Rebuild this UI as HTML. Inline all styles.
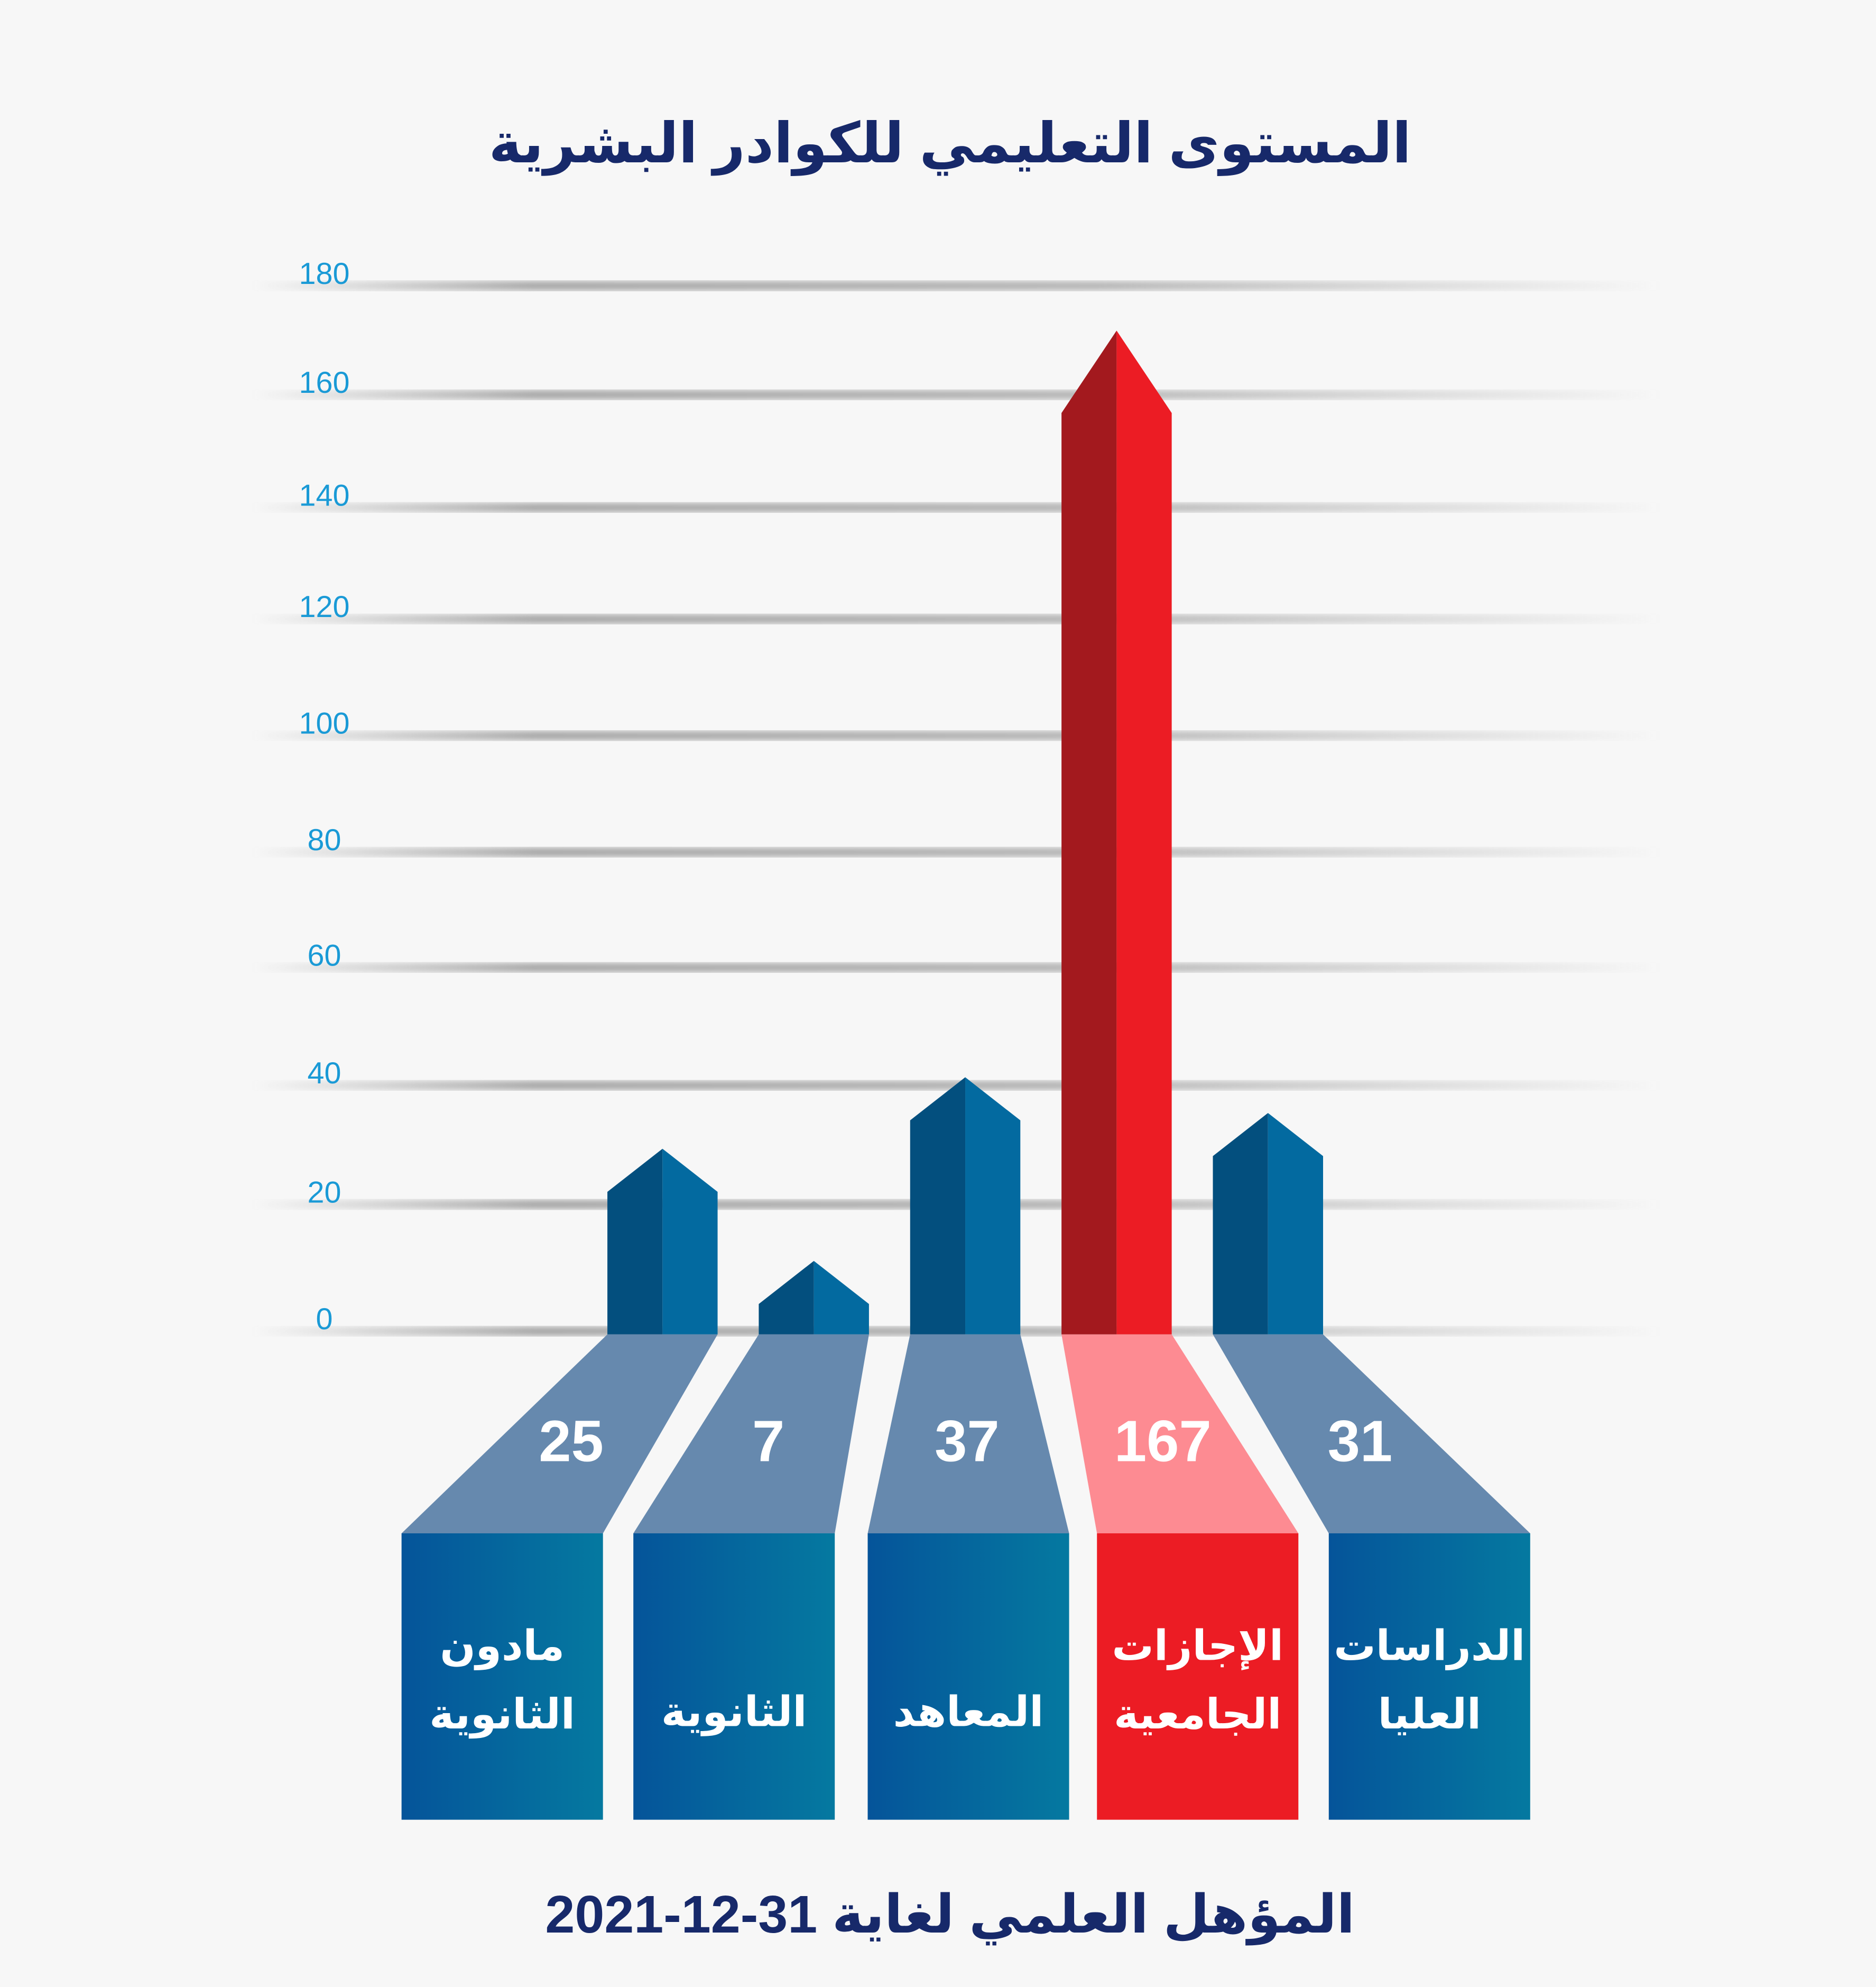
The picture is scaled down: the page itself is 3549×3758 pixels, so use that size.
<!DOCTYPE html>
<html><head><meta charset="utf-8"><style>
html,body{margin:0;padding:0;background:#f7f7f7;}
svg{display:block;}
</style></head><body>
<svg id="chart" width="3549" height="3758" viewBox="0 0 1481 1568" preserveAspectRatio="none" xmlns="http://www.w3.org/2000/svg" font-family="'Liberation Sans','DejaVu Sans',sans-serif">
<defs>
<linearGradient id="gl" x1="0" x2="1" y1="0" y2="0">
<stop offset="0" stop-color="#999" stop-opacity="0"/><stop offset="0.2" stop-color="#999" stop-opacity="0.9"/><stop offset="0.6" stop-color="#aaa" stop-opacity="0.9"/><stop offset="1" stop-color="#aaa" stop-opacity="0"/>
</linearGradient>
<linearGradient id="boxb" x1="0" x2="1"><stop offset="0" stop-color="#05549a"/><stop offset="1" stop-color="#0579a0"/></linearGradient>
<filter id="bl"><feGaussianBlur stdDeviation="2.5"/></filter>
</defs>
<rect width="1481" height="1568" fill="#f7f7f7"/>
<text x="750" y="128" text-anchor="middle" font-size="44" font-weight="bold" fill="#17296a">المستوى التعليمي للكوادر البشرية</text>
<g id="grid"></g>
<g id="bars"></g>
<text x="750" y="1525" text-anchor="middle" font-size="42" font-weight="bold" fill="#17296a">المؤهل العلمي لغاية 31-12-2021</text>
</svg>
<script>
const categories = ["مادون|الثانوية","الثانوية","المعاهد","الإجازات|الجامعية","الدراسات|العليا"];
const values = [25, 7, 37, 167, 31];
const highlight = [false, false, false, true, false];
const ticks = [0,20,40,60,80,100,120,140,160,180];

const NS = "http://www.w3.org/2000/svg";
const grid = document.getElementById('grid');
const bars = document.getElementById('bars');
const tickY = [1050,950,856,763,672,580,488,400,311,225];
const y0 = 1050;
function yScale(v){
  const i = Math.max(0, Math.min(8, Math.floor(v/20)));
  const f = (v - i*20)/20;
  return tickY[i] + (tickY[i+1]-tickY[i])*f;
}
function xCenter(i){ return 523 + i*119.5; }
const boxLeft = [317, 500, 685, 866, 1049];
function mk(tag, attrs, parent){ const e=document.createElementNS(NS,tag); for(const k in attrs) e.setAttribute(k,attrs[k]); parent.appendChild(e); return e; }

ticks.forEach(t=>{
  const y = yScale(t);
  const g = mk('rect',{x:200,y:y-3,width:1110,height:7,fill:'url(#gl)',filter:'url(#bl)'},grid);
  
  
  const tx = mk('text',{x:256,y:y-1,'text-anchor':'middle','font-size':24,fill:'#1a9ad6'},grid);
  tx.textContent = t;
  
  
});

values.forEach((v,i)=>{
  const cx = xCenter(i), hw = 43.5;
  const red = highlight[i];
  const peak = yScale(v) - 20;
  const sh = peak + (red ? 65 : 34);
  const g = mk('g',{},bars);
  
  
  const l = mk('polygon',{points:`${cx-hw},${y0+3} ${cx-hw},${sh} ${cx},${peak} ${cx},${y0+3}`,fill:red?'#a3191e':'#034f7e'},g);
  
  
  const r = mk('polygon',{points:`${cx},${y0+3} ${cx},${peak} ${cx+hw},${sh} ${cx+hw},${y0+3}`,fill:red?'#ec1c24':'#036aa0'},g);
  
  
  const bl = boxLeft[i], bw = 159;
  const tr = mk('polygon',{points:`${cx-hw},${y0+3} ${cx+hw},${y0+3} ${bl+bw},1210 ${bl},1210`,fill:red?'#fd8b92':'#6689ae'},g);
  
  
  const nx = cx + 0.57*((bl+bw/2) - cx);
  const nt = mk('text',{x:nx,y:1153,'text-anchor':'middle','font-size':46,'font-weight':'bold',fill:'#fff'},g);
  nt.textContent = v;
  
  
  const bx = mk('rect',{x:bl,y:1210,width:bw,height:226,fill:red?'#ec1c24':'url(#boxb)'},g);
  
  
  const lines = categories[i].split('|');
  const startY = lines.length===2 ? 1310 : 1362;
  lines.forEach((ln,k)=>{
    const t = mk('text',{x:bl+bw/2,y:startY+k*54,'text-anchor':'middle','font-size':33,'font-weight':'bold',fill:'#fff'},g);
    t.textContent = ln;
    
    
  });
});
</script>
</body></html>
